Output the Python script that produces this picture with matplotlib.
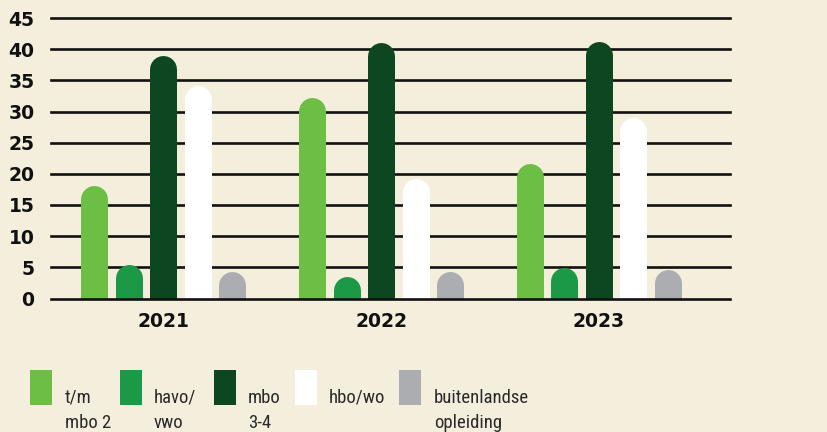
import matplotlib
matplotlib.use('Agg')
import matplotlib.pyplot as plt
from matplotlib.transforms import ScaledTranslation
from matplotlib.patches import Rectangle

# ---- data ----
years = ['2021', '2022', '2023']
categories = ['t/m\nmbo 2', 'havo/\nvwo', 'mbo\n3-4', 'hbo/wo', 'buitenlandse\nopleiding']
tm_mbo2 = [18.2, 32.2, 21.6]
havo_vwo = [5.4, 3.6, 5.0]
mbo34 = [39.0, 41.0, 41.2]
hbo_wo = [34.1, 19.2, 29.1]
buitenlands = [4.3, 4.3, 4.6]
yticks = list(range(0, 46, 5))

# ---- style ----
colors = ['#6dbe45', '#1c9947', '#0d4722', '#ffffff', '#abadb0']
bg = '#f4eedc'
W, H = 827, 432

fig = plt.figure(figsize=(W / 100, H / 100), dpi=100, facecolor=bg)


def fx(px):
    return px / W


def fy(py):
    return 1 - py / H


ax = fig.add_axes([fx(51), fy(298.5), fx(730) - fx(51), fy(18) - fy(298.5)])
ax.set_facecolor(bg)
ax.set_xlim(-0.514, 2.601)
ax.set_ylim(0, 45)
for s in ax.spines.values():
    s.set_visible(False)

for y in yticks:
    ax.axhline(y, color='#111111', lw=1.9, zorder=4 if y == 0 else 1, clip_on=False)

series = [tm_mbo2, havo_vwo, mbo34, hbo_wo, buitenlands]
bar_px = 27
step = 34.5 / 218
lw_pt = bar_px * 72 / 100
shift = ScaledTranslation(0, -lw_pt / 2 / 72, fig.dpi_scale_trans)
for i, (vals, c) in enumerate(zip(series, colors)):
    xs = [j + (i - 2) * step for j in range(len(years))]
    lc = ax.vlines(xs, 0, vals, colors=c, linewidth=lw_pt, zorder=2,
                   transform=ax.transData + shift)
    lc.set_capstyle('round')

ax.set_yticks(yticks)
ax.set_yticklabels([str(t) for t in yticks])
ax.set_xticks(range(len(years)))
ax.set_xticklabels(years)
ax.tick_params(length=0, labelsize=13.5, labelcolor='#111111')
ax.tick_params(axis='y', pad=12)
ax.tick_params(axis='x', pad=10)
for lab in ax.get_xticklabels() + ax.get_yticklabels():
    lab.set_fontweight('bold')
    lab.set_family('DejaVu Sans')

# ---- legend ----
patch_x = [30, 120, 214, 295, 399]
text_x = [65, 154, 248, 329, 434]
for px, tx, c, lab in zip(patch_x, text_x, colors, categories):
    fig.add_artist(Rectangle((fx(px), fy(405)), 22 / W, 35 / H,
                             transform=fig.transFigure, color=c, lw=0))
    for k, line in enumerate(lab.split('\n')):
        fig.text(fx(tx), fy(403 + k * 25), line, va='baseline', ha='left',
                 fontsize=13.5, family=['Roboto Condensed', 'Roboto'],
                 color='#2a2a2a')

fig.savefig('out.png', dpi=100, facecolor=bg)
